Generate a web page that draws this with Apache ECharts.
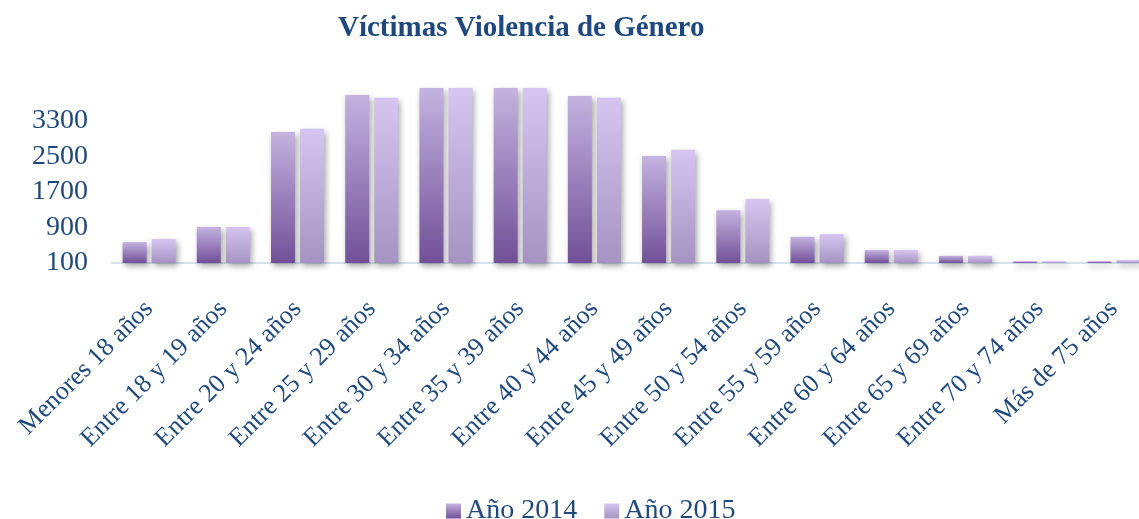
<!DOCTYPE html>
<html lang="es">
<head>
    <meta charset="UTF-8">
    <title>Víctimas Violencia de Género</title>
    <script src="https://cdn.jsdelivr.net/npm/echarts@6/dist/echarts.min.js"></script>
</head>
<body style="margin:0;background:#fff;overflow:hidden;">
<!-- el área de trazado se sale un poco por la derecha, como en el original -->
<div id="main" style="width:1152px;height:519px;"></div>
<script type="text/javascript">
    // datos
    var categorias = ['Menores 18 años', 'Entre 18 y 19 años', 'Entre 20 y 24 años', 'Entre 25 y 29 años',
        'Entre 30 y 34 años', 'Entre 35 y 39 años', 'Entre 40 y 44 años', 'Entre 45 y 49 años',
        'Entre 50 y 54 años', 'Entre 55 y 59 años', 'Entre 60 y 64 años', 'Entre 65 y 69 años',
        'Entre 70 y 74 años', 'Más de 75 años'];
    var anio2014 = [570, 910, 3050, 3885, 4300, 4250, 3860, 2510, 1290, 690, 390, 260, 140, 140];
    var anio2015 = [640, 910, 3120, 3820, 4280, 4240, 3820, 2650, 1540, 750, 390, 260, 140, 165];

    var azul = '#1f497d';
    var fuente = '"Liberation Serif", "Times New Roman", serif';

    function degradado(arriba, abajo) {
        return new echarts.graphic.LinearGradient(0, 0, 0, 1, [
            {offset: 0, color: arriba},
            {offset: 1, color: abajo}
        ]);
    }

    var sombra = {
        shadowColor: 'rgba(0,0,0,0.35)',
        shadowBlur: 6,
        shadowOffsetX: 2,
        shadowOffsetY: 3
    };

    var myChart = echarts.init(document.getElementById('main'));
    myChart.setOption({
        animation: false,
        title: {
            text: 'Víctimas Violencia de Género',
            left: 333,
            top: 9,
            textStyle: {fontFamily: fuente, fontSize: 29, fontWeight: 'bold', color: azul}
        },
        legend: {
            data: ['Año 2014', 'Año 2015'],
            left: 441,
            top: 492,
            itemWidth: 15,
            itemHeight: 15,
            itemGap: 27,
            icon: 'rect',
            textStyle: {fontFamily: fuente, fontSize: 28, color: azul}
        },
        grid: {left: 112, top: 88, width: 1039, height: 175},
        xAxis: {
            type: 'category',
            data: categorias,
            axisTick: {show: false},
            axisLine: {lineStyle: {color: '#d6e1f0', width: 2}},
            axisLabel: {rotate: 45, margin: 42, fontFamily: fuente, fontSize: 26, color: azul, interval: 0}
        },
        yAxis: {
            type: 'value',
            min: 100,
            max: 4040,
            interval: 800,
            splitLine: {show: false},
            axisLine: {show: false},
            axisTick: {show: false},
            axisLabel: {
                showMaxLabel: false, margin: 24, fontFamily: fuente, fontSize: 28, color: azul,
                formatter: function (v) { return String(v); }
            }
        },
        series: [{
            name: 'Año 2014',
            type: 'bar',
            data: anio2014,
            barWidth: 24,
            barGap: '21%',
            itemStyle: Object.assign({color: degradado('#c4b2e0', '#715097')}, sombra)
        }, {
            name: 'Año 2015',
            type: 'bar',
            data: anio2015,
            barWidth: 24,
            itemStyle: Object.assign({color: degradado('#d6c5f0', '#a594c2')}, sombra)
        }]
    });
</script>
</body>
</html>
